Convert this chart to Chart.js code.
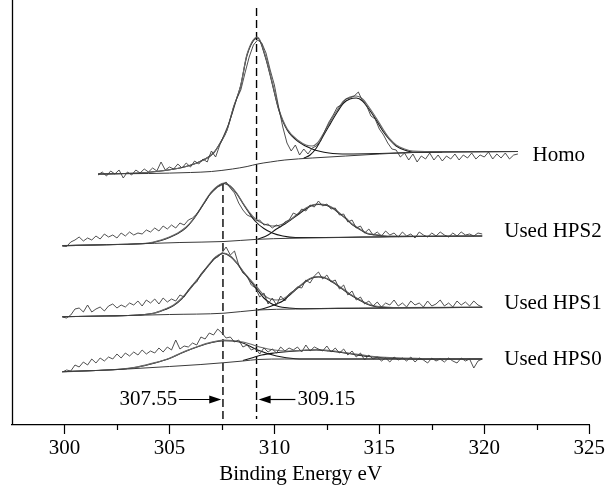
<!DOCTYPE html>
<html><head><meta charset="utf-8">
<script src="https://cdn.jsdelivr.net/npm/chart.js@4/dist/chart.umd.min.js"></script>
<style>html,body{margin:0;padding:0;background:#fff}</style>
</head><body>
<canvas id="c" width="608" height="487" style="width:608px;height:487px;display:block"></canvas>
<script>
// ---------- DATA (binding energy eV, intensity a.u.) ----------
const rawStep = 0.2;
const homoRawStart = 301.6;
const homoRaw = [250,253,249,254,251,255,247,253,250,255,252,256,253,257,254,263,255,258,256,261,
257,262,258,264,261,266,263,274,268,280,290,300,312,326,335,352,368,380,385,382,
372,355,340,318,298,282,274,280,270,276,271,277,279,284,294,303,310,318,320,326,
327,329,333,324,319,309,306,296,290,282,276,275,268,272,265,271,263,269,266,272,
265,270,264,269,266,271,265,270,267,272,266,270,268,273,266,271,267,272,266,270,271];
const hpsRawStart = 299.9;
const hps2Raw = [179,178.5,183,185,188,184,187,185,189,186,191,188,190,187,192,189,193,190,192,191,
195,193,197,194,199,196,200,197,202,200,205,207,211,217,223,230,234,238,240,243,
237,232,222,215,210,208,204,205,200,201,197,200,198,203,205,212,210,216,214,220,
218,224,219,221,216,217,210,211,203,205,197,199,192,196,190,193,189,194,190,192,
188,193,189,191,187,193,190,188,192,189,193,190,188,192,189,193,190,191,189,192,191];
const hps1Raw = [108,107,110,116,117,113,120,113,116,118,114,119,121,117,120,118,122,120,124,119,
125,122,126,121,127,123,126,124,130,128,135,140,143,151,156,160,166,168,172,178,
170,174,160,152,149,140,137,128,132,121,127,120,129,124,131,134,138,137,145,142,
149,153,146,150,143,145,136,140,130,134,125,128,121,124,119,123,118,122,120,125,
119,122,118,124,120,122,118,124,119,121,125,119,122,118,124,120,123,119,124,120,118];
const hps0Raw = [53,55,54,60,58,63,60,66,62,67,64,68,66,71,67,72,69,73,70,75,
71,74,72,77,73,78,75,85,76,79,78,82,80,88,86,92,90,96,92,87,
88,83,85,78,80,75,77,71,77,73,76,72,78,74,77,75,78,73,80,74,
78,76,74,79,73,77,72,76,70,74,68,72,65,70,66,68,64,67,63,68,
65,67,64,68,63,67,65,62,67,64,66,63,67,64,62,67,64,66,57,64,66];

// fitted curves
const homoBaseE = [301.6,304,306,307,308,308.7,309.2,309.8,310.5,311.8,313.4,315,316.6,318,321.6];
const homoBaseI = [251,251.5,252.5,253.5,256,258.5,261,263,265,267,269,271,272.5,273,273.5];
const homoP1E = [301.6,303.9,305.5,306.3,307.1,307.42,307.74,308.06,308.38,308.7,309.2,309.57,309.89,310.21,310.61,311.17,311.8,312.6,313.5,315,316.6,318,321.6];
const homoP1I = [251,252.5,257,262,272,282,295,318,338,370,387,368,342,315,295,283,276,272,271,271.5,272.5,273,273.5];
const homoP2E = [311.4,311.7,312.0,312.3,312.6,313.0,313.3,313.6,313.9,314.2,314.5,314.85,315.2,315.5,315.8,316.2,316.6,318];
const homoP2I = [267,270,277,288,299,313,322,326,327,324,316,305,293,285,279,275,273,273];
const homoEnvE = [301.6,303.9,305.5,306.3,307.1,307.42,307.74,308.06,308.38,308.7,309.2,309.57,309.89,310.21,310.61,311.17,311.5,311.8,312.05,312.3,312.6,313.0,313.3,313.6,313.9,314.2,314.5,314.85,315.2,315.5,315.8,316.2,316.6,318,321.6];
const homoEnvI = [251,252.5,257,262,272,282,295,318,338,371,388,369,343,316,296,284,280,279,282,290,301,315,324,328,329,326,318,307,295,286,280,276,274,273.5,273.5];

const hps2BaseE = [299.9,302,304.3,305.5,307.6,309.2,310.7,312.5,315.5,319.9];
const hps2BaseI = [179.3,180.3,181.7,182.5,183.5,185.7,186.7,187.3,188.3,189];
const hps2P1E = [299.9,302,304.0,304.6,305.0,305.4,305.8,306.1,306.4,306.7,307.0,307.3,307.6,307.9,308.2,308.5,308.8,309.1,309.5,309.9,310.4,311,312,315.5,319.9];
const hps2P1I = [179.3,180.3,181.8,184.5,187.5,191.5,197.5,204.5,213.5,223.5,232.5,238.5,241.5,238.5,231.5,221.5,212,203.5,196.5,192,189,187.5,187.5,188.3,189];
const hps2P2E = [309.2,309.7,310.1,310.5,310.8,311.1,311.5,311.8,312.1,312.5,312.8,313.1,313.4,313.7,314.0,314.4,314.8,315.5,316.5];
const hps2P2I = [185.7,190,196,201,205.5,210,216,219.5,220.5,219.5,216.5,211.5,206.5,200.5,196.5,191.5,190,188.5,188.5];
const hps2EnvE = [299.9,302,304.0,304.6,305.0,305.4,305.8,306.1,306.4,306.7,307.0,307.3,307.6,307.9,308.2,308.5,308.8,309.1,309.5,309.9,310.2,310.5,310.8,311.1,311.5,311.8,312.1,312.5,312.8,313.1,313.4,313.7,314.0,314.4,314.8,315.5,317,319.9];
const hps2EnvI = [179.3,180.3,182,185,188,192,198,205,214,224,233,239,242,239,232,222,213,206,201,199,199.5,202,206,211,217,220,221,220,217,212,207,201,197,192,190.5,189,189,189];

const hps1BaseE = [299.9,303,305,307.6,309.2,311,314,317,319.9];
const hps1BaseI = [108.3,109.5,110.5,111.8,115,116,116.8,117.3,117.7];
const hps1P1E = [299.9,302,303.5,304.3,304.8,305.2,305.6,306.0,306.3,306.6,306.94,307.2,307.58,307.9,308.22,308.5,308.86,309.2,309.5,309.8,310.2,310.7,311.3,314,319.9];
const hps1P1I = [108.3,109,110,112,115.5,119.5,126.5,136.5,144.5,152.5,161.5,167.5,171.5,168.5,161.5,153.5,144,135,127,122,118.5,117,116.3,116.8,117.7];
const hps1P2E = [309.2,309.5,309.8,310.1,310.4,310.7,311.2,311.5,311.8,312.1,312.4,312.8,313.2,313.6,314.0,314.4,314.8,315.3,316.5];
const hps1P2I = [115,116.5,118.5,121,124,129.5,138.5,143.5,147,148,147,142.5,136.5,130.5,125.5,121,118.5,117.5,117.5];
const hps1EnvE = [299.9,302,303.5,304.3,304.8,305.2,305.6,306.0,306.3,306.6,306.94,307.2,307.58,307.9,308.22,308.5,308.86,309.2,309.49,309.8,310.1,310.4,310.8,311.2,311.5,311.8,312.1,312.4,312.8,313.2,313.6,314.0,314.4,314.8,315.3,316,319.9];
const hps1EnvI = [108.3,109,110,112,116,120,127,137,145,153,162,168,172,169,162,154,145,137,130,126,125,126,132,139,144,147.5,148.5,147.5,143,137,131,126,121.5,119,118,117.5,117.7];

const hps0BaseE = [299.9,301.5,303,305,306.5,307.6,308.5,309.2,310.5,315,319.9];
const hps0BaseI = [53.3,54.5,56,58.5,60.5,62.3,64,65.5,66,66,66];
const hps0P1E = [299.9,301.5,302.71,303.5,304.31,305.0,305.58,306.38,307.02,307.58,308.0,308.5,309.2,310.1,311.0,312,315,319.9];
const hps0P1I = [53.3,54.5,55.8,58,62,66.5,72,78.5,82.5,84.3,84,82,75,69,66.3,66,66,66];
const hps0P2E = [308.5,309.0,309.4,310.0,310.7,311.4,312.0,312.6,313.2,313.8,314.5,315.5,316.5,317.5,319.9];
const hps0P2I = [64.5,67.5,70,72,73.5,74.5,75,74,72.5,70.5,68.5,67,66.3,66,66];
const hps0EnvE = [299.9,301.5,302.71,303.5,304.31,305.0,305.58,306.0,306.38,307.02,307.58,308.0,308.5,309.0,309.4,310.0,310.5,311.0,311.5,312.0,312.6,313.2,313.8,314.5,315.5,317,319.9];
const hps0EnvI = [53.3,54.5,56,58.2,62.3,66.8,72.3,75.8,78.8,82.8,84.8,84.5,83,80,77.5,75,74,74.3,74.8,75.3,74.5,73,71,69,67.3,66.5,66];

// peak position markers (eV) and their vertical extent (intensity)
const markerE = [307.55, 309.15];
const markerTop = [242, 417];
const markerBottom = [4, 6];

const seriesNames = ['Homo', 'Used HPS2', 'Used HPS1', 'Used HPS0'];
const xTickValues = [300,302.5,305,307.5,310,312.5,315,317.5,320,322.5,325];
const xTitle = 'Binding Energy eV';

// ---------- placement (layout, not data) ----------
const nameAnchorE = [322.3, 320.95, 320.95, 320.95];
const nameAnchorI = [270, 194, 121.3, 66];
const annAnchors = [
  {text: '307.55', textE: 305.37, align: 'right', arrowFrom: 305.45, arrowTo: 307.47, I: 26},
  {text: '309.15', textE: 311.1, align: 'left', arrowFrom: 311.0, arrowTo: 309.25, I: 26}
];
const FONT = '21px "Liberation Serif", "Times New Roman", serif';

// ---------- build datasets ----------
function pts(E, I) { return E.map((e, i) => ({x: e, y: I[i]})); }
function rawPts(start, arr) { return arr.map((v, i) => ({x: +(start + i * rawStep).toFixed(2), y: v})); }
const rawStyle = {borderColor: '#3c3c3c', borderWidth: 0.9, tension: 0};
const fitStyle = {borderColor: '#151515', borderWidth: 1.1, cubicInterpolationMode: 'monotone'};
const envStyle = {borderColor: '#6a6a6a', borderWidth: 1.2, cubicInterpolationMode: 'monotone'};
const baseStyle = {borderColor: '#3a3a3a', borderWidth: 1, cubicInterpolationMode: 'monotone'};

const datasets = [];
function addSpectrum(raw, base, p1, p2, env) {
  datasets.push({data: raw, ...rawStyle});
  datasets.push({data: base, ...baseStyle});
  datasets.push({data: env, ...envStyle});
  datasets.push({data: p1, ...fitStyle});
  datasets.push({data: p2, ...fitStyle});
}
addSpectrum(rawPts(homoRawStart, homoRaw), pts(homoBaseE, homoBaseI), pts(homoP1E, homoP1I), pts(homoP2E, homoP2I), pts(homoEnvE, homoEnvI));
addSpectrum(rawPts(hpsRawStart, hps2Raw), pts(hps2BaseE, hps2BaseI), pts(hps2P1E, hps2P1I), pts(hps2P2E, hps2P2I), pts(hps2EnvE, hps2EnvI));
addSpectrum(rawPts(hpsRawStart, hps1Raw), pts(hps1BaseE, hps1BaseI), pts(hps1P1E, hps1P1I), pts(hps1P2E, hps1P2I), pts(hps1EnvE, hps1EnvI));
addSpectrum(rawPts(hpsRawStart, hps0Raw), pts(hps0BaseE, hps0BaseI), pts(hps0P1E, hps0P1I), pts(hps0P2E, hps0P2I), pts(hps0EnvE, hps0EnvI));
markerE.forEach((e, i) => datasets.push({
  data: [{x: e, y: markerTop[i]}, {x: e, y: markerBottom[i]}],
  borderColor: '#000', borderWidth: 1.4, borderDash: [8, 4]
}));

const decor = {
  id: 'decor',
  afterDraw(chart) {
    const {ctx, chartArea: ca, scales: {x, y}} = chart;
    ctx.save();
    ctx.strokeStyle = '#000';
    ctx.lineWidth = 1.3;
    ctx.beginPath(); ctx.moveTo(ca.left + 0.5, ca.top); ctx.lineTo(ca.left + 0.5, ca.bottom); ctx.stroke();
    ctx.lineWidth = 1.2;
    xTickValues.forEach(v => {
      const px = Math.round(x.getPixelForValue(v)) + 0.5;
      const len = (v % 5 === 0) ? 9 : 5;
      ctx.beginPath(); ctx.moveTo(px, ca.bottom); ctx.lineTo(px, ca.bottom + len); ctx.stroke();
    });
    ctx.font = FONT; ctx.fillStyle = '#000'; ctx.textBaseline = 'middle';
    ctx.textAlign = 'left';
    seriesNames.forEach((t, i) => ctx.fillText(t, x.getPixelForValue(nameAnchorE[i]), y.getPixelForValue(nameAnchorI[i])));
    annAnchors.forEach(a => {
      const py = y.getPixelForValue(a.I);
      ctx.textAlign = a.align;
      ctx.fillText(a.text, x.getPixelForValue(a.textE), py);
      const x1 = x.getPixelForValue(a.arrowFrom), x2 = x.getPixelForValue(a.arrowTo);
      const dir = Math.sign(x2 - x1);
      ctx.lineWidth = 1.2;
      ctx.beginPath(); ctx.moveTo(x1, py + 0.5); ctx.lineTo(x2 - dir * 8, py + 0.5); ctx.stroke();
      ctx.beginPath(); ctx.moveTo(x2, py + 0.5); ctx.lineTo(x2 - dir * 12, py - 3.5); ctx.lineTo(x2 - dir * 12, py + 4.5); ctx.closePath(); ctx.fill();
    });
    ctx.restore();
  }
};

new Chart(document.getElementById('c'), {
  type: 'line',
  data: {datasets},
  options: {
    responsive: false, animation: false, devicePixelRatio: 1,
    parsing: true,
    elements: {point: {radius: 0}, line: {fill: false}},
    layout: {padding: {left: 12, right: 17, top: 0, bottom: 0}},
    plugins: {legend: {display: false}, tooltip: {enabled: false}},
    scales: {
      x: {
        type: 'linear', min: 297.5, max: 325,
        afterBuildTicks: s => { s.ticks = xTickValues.map(v => ({value: v})); },
        afterFit: s => { s.height = 62; },
        grid: {display: false},
        border: {display: true, color: '#000', width: 1.3},
        ticks: {autoSkip: false, maxRotation: 0, padding: 3, color: '#000', font: {family: '"Liberation Serif", "Times New Roman", serif', size: 21},
          callback: v => (v % 5 === 0 ? String(v) : '')},
        title: {display: true, text: xTitle, color: '#000', padding: {top: 0, bottom: 0}, font: {family: '"Liberation Serif", "Times New Roman", serif', size: 21}}
      },
      y: {type: 'linear', min: 0, max: 425, display: false}
    }
  },
  plugins: [decor]
});
</script>
</body></html>
